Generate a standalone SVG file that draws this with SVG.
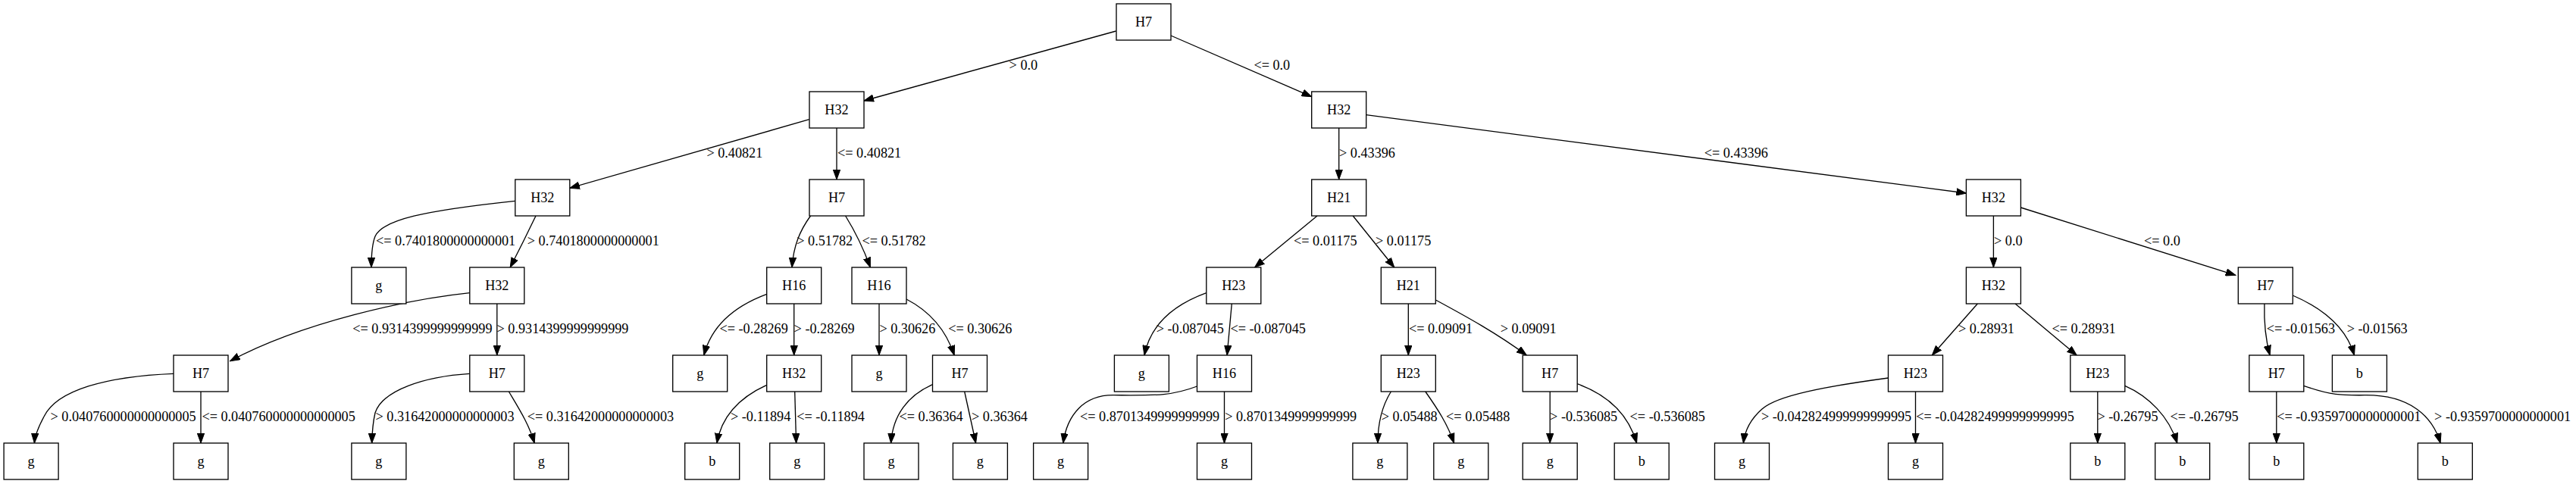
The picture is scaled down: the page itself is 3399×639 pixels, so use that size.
<svg xmlns="http://www.w3.org/2000/svg" width="3399" height="639" viewBox="0 0 3399 639">
<style>
.n rect{fill:#fff;stroke:#000;stroke-width:1.33}
.n text{font-family:"Liberation Serif","Times New Roman",serif;font-size:18.2px;text-anchor:middle;fill:#000}
.e path{fill:none;stroke:#000;stroke-width:1.33;marker-end:url(#ah)}
.e text{font-family:"Liberation Serif","Times New Roman",serif;font-size:18.2px;fill:#000}
</style>
<defs>
<marker id="ah" markerUnits="userSpaceOnUse" markerWidth="14" markerHeight="10" refX="13" refY="5" orient="auto">
<path d="M0,0.3 L13,5 L0,9.7 Z" fill="#000" stroke="#000" stroke-width="1"/>
</marker>
</defs>
<rect width="3399" height="639" fill="#fff"/>
<g id="edges" class="e">
<path d="M1472.6,41 L1140,133"/>
<path d="M1545,47 L1730.7,127.7"/>
<path d="M1067.7,157.7 L751.8,248.3"/>
<path d="M1104,169 L1104,237"/>
<path d="M1766.7,169 L1766.7,237"/>
<path d="M1802.7,151.7 L2594.4,255"/>
<path d="M679.8,265.3 C560,278 505,290 495,312 C491,322 490,335 490,353"/>
<path d="M707,285 C695,310 685,330 673.2,353"/>
<path d="M1069.5,285 C1055,305 1047,325 1045,353"/>
<path d="M1115.6,285 C1128,305 1140,330 1148.4,353"/>
<path d="M1738,285 L1655.5,353"/>
<path d="M1785.2,285 L1839.8,353"/>
<path d="M2630.4,285 L2630.4,353"/>
<path d="M2666.4,274 L2949.8,363.3"/>
<path d="M619.8,386.7 C540,395 400,425 303.5,476.7"/>
<path d="M655.8,401 L655.8,469"/>
<path d="M1011.7,388.3 C975,402 940,425 928.8,469"/>
<path d="M1047.7,401 L1047.7,469"/>
<path d="M1160,401 L1160,469"/>
<path d="M1196,395 C1225,410 1248,435 1259.2,469"/>
<path d="M1591.8,386.7 C1550,402 1518,428 1510,469"/>
<path d="M1625.3,401 L1619.1,469"/>
<path d="M1858.3,401 L1858.3,469"/>
<path d="M1894.3,396 C1935,418 1975,440 2014.3,469"/>
<path d="M2609.3,401 L2549.4,469"/>
<path d="M2659.1,401 L2740.2,469"/>
<path d="M2987.9,401 C2987,430 2990,450 2995.1,469"/>
<path d="M3025.2,390 C3060,405 3095,430 3106.5,469"/>
<path d="M229,493.3 C140,497 75,515 58,550 C50,565 46,575 45.4,585"/>
<path d="M265,517 L265,585"/>
<path d="M619.8,493.3 C560,497 505,515 495,545 C492,558 491,570 490.7,585"/>
<path d="M671.4,517 C685,540 698,560 705.2,585"/>
<path d="M1011.7,508.3 C975,525 952,550 945.9,585"/>
<path d="M1048.7,517 L1050.6,585"/>
<path d="M1230.5,507.7 C1198,522 1178,548 1175.6,585"/>
<path d="M1272.7,517 L1287.6,585"/>
<path d="M1579.5,510 C1545,523 1525,522 1470,521.7 C1430,521 1408,548 1402.8,585"/>
<path d="M1615.5,517 L1615.5,585"/>
<path d="M1835.4,517 C1823,537 1818,558 1818,585"/>
<path d="M1880.8,517 C1897,540 1910,560 1918.6,585"/>
<path d="M2045.2,517 L2045.2,585"/>
<path d="M2081.1,506.7 C2118,520 2148,545 2159.6,585"/>
<path d="M2491.6,499 C2410,510 2345,522 2325,540 C2308,555 2302,570 2300.4,585"/>
<path d="M2527.5,517 L2527.5,585"/>
<path d="M2767.8,517 L2767.8,585"/>
<path d="M2803.8,509.3 C2835,523 2862,550 2872.8,585"/>
<path d="M3003.8,517 L3003.8,585"/>
<path d="M3039.7,509.3 C3075,522 3090,522 3120,521.7 C3180,521 3210,550 3220.1,585"/>
<text x="1331.6" y="92">&gt; 0.0</text>
<text x="1654.4" y="92">&lt;= 0.0</text>
<text x="932.4" y="208">&gt; 0.40821</text>
<text x="1105" y="208">&lt;= 0.40821</text>
<text x="1767" y="208">&gt; 0.43396</text>
<text x="2248.7" y="208">&lt;= 0.43396</text>
<text x="496" y="324">&lt;= 0.7401800000000001</text>
<text x="695.8" y="324">&gt; 0.7401800000000001</text>
<text x="1051.3" y="324">&gt; 0.51782</text>
<text x="1137.5" y="324">&lt;= 0.51782</text>
<text x="1707" y="324">&lt;= 0.01175</text>
<text x="1815" y="324">&gt; 0.01175</text>
<text x="2631" y="324">&gt; 0.0</text>
<text x="2829" y="324">&lt;= 0.0</text>
<text x="465.3" y="440">&lt;= 0.9314399999999999</text>
<text x="655.5" y="440">&gt; 0.9314399999999999</text>
<text x="949.5" y="440">&lt;= -0.28269</text>
<text x="1047.6" y="440">&gt; -0.28269</text>
<text x="1160.4" y="440">&gt; 0.30626</text>
<text x="1251.2" y="440">&lt;= 0.30626</text>
<text x="1525.7" y="440">&gt; -0.087045</text>
<text x="1623.5" y="440">&lt;= -0.087045</text>
<text x="1859" y="440">&lt;= 0.09091</text>
<text x="1979.7" y="440">&gt; 0.09091</text>
<text x="2584" y="440">&gt; 0.28931</text>
<text x="2707.5" y="440">&lt;= 0.28931</text>
<text x="2990.8" y="440">&lt;= -0.01563</text>
<text x="3096.7" y="440">&gt; -0.01563</text>
<text x="66.5" y="556">&gt; 0.040760000000000005</text>
<text x="266.4" y="556">&lt;= 0.040760000000000005</text>
<text x="495.5" y="556">&gt; 0.31642000000000003</text>
<text x="695.8" y="556">&lt;= 0.31642000000000003</text>
<text x="964" y="556">&gt; -0.11894</text>
<text x="1051.3" y="556">&lt;= -0.11894</text>
<text x="1186.5" y="556">&lt;= 0.36364</text>
<text x="1282" y="556">&gt; 0.36364</text>
<text x="1425" y="556">&lt;= 0.8701349999999999</text>
<text x="1616.2" y="556">&gt; 0.8701349999999999</text>
<text x="1822.7" y="556">&gt; 0.05488</text>
<text x="1908.1" y="556">&lt;= 0.05488</text>
<text x="2045.1" y="556">&gt; -0.536085</text>
<text x="2150.6" y="556">&lt;= -0.536085</text>
<text x="2324" y="556">&gt; -0.042824999999999995</text>
<text x="2528.3" y="556">&lt;= -0.042824999999999995</text>
<text x="2767.5" y="556">&gt; -0.26795</text>
<text x="2863.4" y="556">&lt;= -0.26795</text>
<text x="3004.2" y="556">&lt;= -0.9359700000000001</text>
<text x="3212.1" y="556">&gt; -0.9359700000000001</text>
</g>
<g id="n0" class="n"><rect x="1473" y="5" width="72" height="48"/><text x="1509" y="35">H7</text></g>
<g id="n1" class="n"><rect x="1068" y="121" width="72" height="48"/><text x="1104" y="151">H32</text></g>
<g id="n2" class="n"><rect x="1730.7" y="121" width="72" height="48"/><text x="1766.7" y="151">H32</text></g>
<g id="n3" class="n"><rect x="679.8" y="237" width="72" height="48"/><text x="715.8" y="267">H32</text></g>
<g id="n4" class="n"><rect x="1068" y="237" width="72" height="48"/><text x="1104" y="267">H7</text></g>
<g id="n5" class="n"><rect x="1730.7" y="237" width="72" height="48"/><text x="1766.7" y="267">H21</text></g>
<g id="n6" class="n"><rect x="2594.4" y="237" width="72" height="48"/><text x="2630.4" y="267">H32</text></g>
<g id="n7" class="n"><rect x="463.9" y="353" width="72" height="48"/><text x="499.9" y="383">g</text></g>
<g id="n8" class="n"><rect x="619.8" y="353" width="72" height="48"/><text x="655.8" y="383">H32</text></g>
<g id="n9" class="n"><rect x="1011.7" y="353" width="72" height="48"/><text x="1047.7" y="383">H16</text></g>
<g id="n10" class="n"><rect x="1124" y="353" width="72" height="48"/><text x="1160" y="383">H16</text></g>
<g id="n11" class="n"><rect x="1591.8" y="353" width="72" height="48"/><text x="1627.8" y="383">H23</text></g>
<g id="n12" class="n"><rect x="1822.3" y="353" width="72" height="48"/><text x="1858.3" y="383">H21</text></g>
<g id="n13" class="n"><rect x="2594.4" y="353" width="72" height="48"/><text x="2630.4" y="383">H32</text></g>
<g id="n14" class="n"><rect x="2953.3" y="353" width="72" height="48"/><text x="2989.3" y="383">H7</text></g>
<g id="n15" class="n"><rect x="229" y="469" width="72" height="48"/><text x="265" y="499">H7</text></g>
<g id="n16" class="n"><rect x="619.8" y="469" width="72" height="48"/><text x="655.8" y="499">H7</text></g>
<g id="n17" class="n"><rect x="887.7" y="469" width="72" height="48"/><text x="923.7" y="499">g</text></g>
<g id="n18" class="n"><rect x="1011.7" y="469" width="72" height="48"/><text x="1047.7" y="499">H32</text></g>
<g id="n19" class="n"><rect x="1124" y="469" width="72" height="48"/><text x="1160" y="499">g</text></g>
<g id="n20" class="n"><rect x="1230.5" y="469" width="72" height="48"/><text x="1266.5" y="499">H7</text></g>
<g id="n21" class="n"><rect x="1470.4" y="469" width="72" height="48"/><text x="1506.4" y="499">g</text></g>
<g id="n22" class="n"><rect x="1579.5" y="469" width="72" height="48"/><text x="1615.5" y="499">H16</text></g>
<g id="n23" class="n"><rect x="1822.3" y="469" width="72" height="48"/><text x="1858.3" y="499">H23</text></g>
<g id="n24" class="n"><rect x="2009.2" y="469" width="72" height="48"/><text x="2045.2" y="499">H7</text></g>
<g id="n25" class="n"><rect x="2491.5" y="469" width="72" height="48"/><text x="2527.5" y="499">H23</text></g>
<g id="n26" class="n"><rect x="2731.8" y="469" width="72" height="48"/><text x="2767.8" y="499">H23</text></g>
<g id="n27" class="n"><rect x="2967.8" y="469" width="72" height="48"/><text x="3003.8" y="499">H7</text></g>
<g id="n28" class="n"><rect x="3077.4" y="469" width="72" height="48"/><text x="3113.4" y="499">b</text></g>
<g id="n29" class="n"><rect x="5.1" y="585" width="72" height="48"/><text x="41.1" y="615">g</text></g>
<g id="n30" class="n"><rect x="229" y="585" width="72" height="48"/><text x="265" y="615">g</text></g>
<g id="n31" class="n"><rect x="463.9" y="585" width="72" height="48"/><text x="499.9" y="615">g</text></g>
<g id="n32" class="n"><rect x="678.3" y="585" width="72" height="48"/><text x="714.3" y="615">g</text></g>
<g id="n33" class="n"><rect x="903.7" y="585" width="72" height="48"/><text x="939.7" y="615">b</text></g>
<g id="n34" class="n"><rect x="1015.7" y="585" width="72" height="48"/><text x="1051.7" y="615">g</text></g>
<g id="n35" class="n"><rect x="1140" y="585" width="72" height="48"/><text x="1176" y="615">g</text></g>
<g id="n36" class="n"><rect x="1257.4" y="585" width="72" height="48"/><text x="1293.4" y="615">g</text></g>
<g id="n37" class="n"><rect x="1363.6" y="585" width="72" height="48"/><text x="1399.6" y="615">g</text></g>
<g id="n38" class="n"><rect x="1579.5" y="585" width="72" height="48"/><text x="1615.5" y="615">g</text></g>
<g id="n39" class="n"><rect x="1784.9" y="585" width="72" height="48"/><text x="1820.9" y="615">g</text></g>
<g id="n40" class="n"><rect x="1891.8" y="585" width="72" height="48"/><text x="1927.8" y="615">g</text></g>
<g id="n41" class="n"><rect x="2009.2" y="585" width="72" height="48"/><text x="2045.2" y="615">g</text></g>
<g id="n42" class="n"><rect x="2130.2" y="585" width="72" height="48"/><text x="2166.2" y="615">b</text></g>
<g id="n43" class="n"><rect x="2262.5" y="585" width="72" height="48"/><text x="2298.5" y="615">g</text></g>
<g id="n44" class="n"><rect x="2491.5" y="585" width="72" height="48"/><text x="2527.5" y="615">g</text></g>
<g id="n45" class="n"><rect x="2731.8" y="585" width="72" height="48"/><text x="2767.8" y="615">b</text></g>
<g id="n46" class="n"><rect x="2843.7" y="585" width="72" height="48"/><text x="2879.7" y="615">b</text></g>
<g id="n47" class="n"><rect x="2967.8" y="585" width="72" height="48"/><text x="3003.8" y="615">b</text></g>
<g id="n48" class="n"><rect x="3190.3" y="585" width="72" height="48"/><text x="3226.3" y="615">b</text></g>
</svg>
